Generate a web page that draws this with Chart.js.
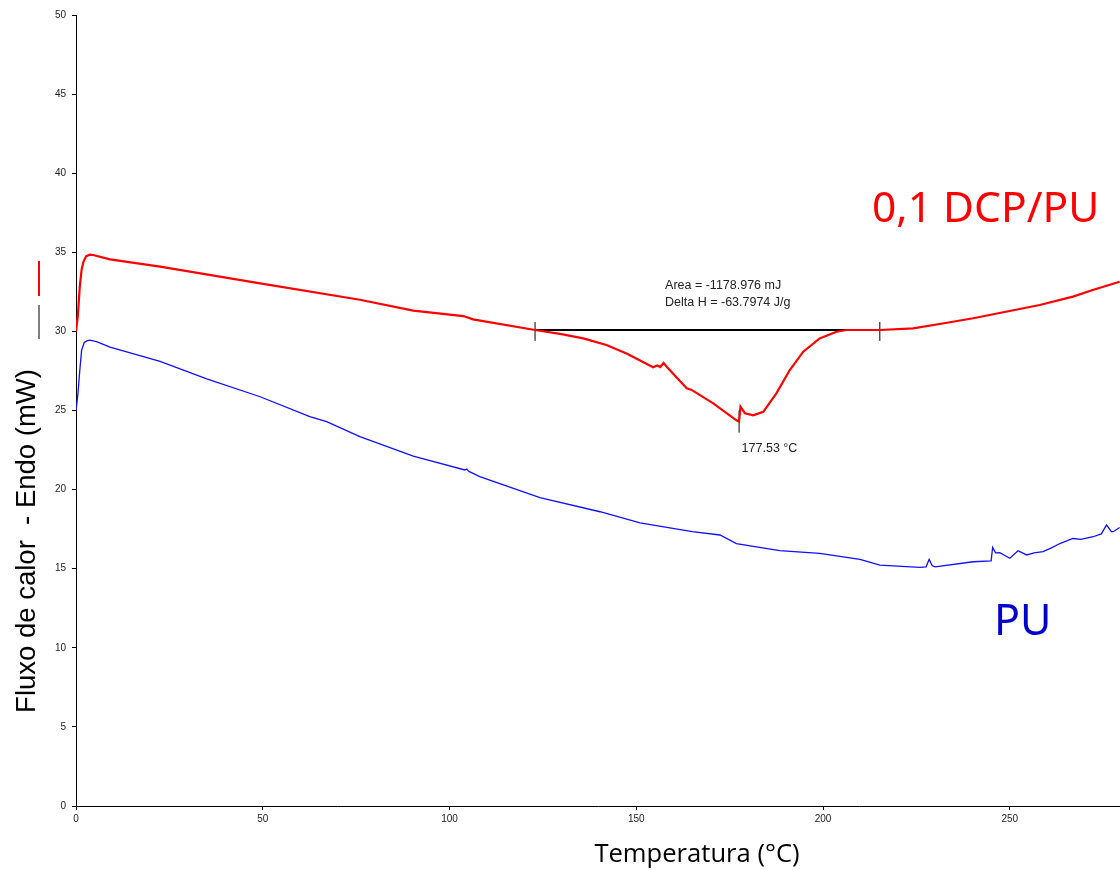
<!DOCTYPE html>
<html lang="pt">
<head>
    <meta charset="UTF-8">
    <title>DSC - PU e 0,1 DCP/PU</title>
    <script src="https://cdn.jsdelivr.net/npm/chart.js"></script>
    <style>
        html, body {
            margin: 0;
            padding: 0;
            background: #ffffff;
        }

        .chart-box {
            position: relative;
            width: 1120px;
            height: 870px;
        }
    </style>
</head>
<body>
    <div class="chart-box">
        <canvas id="dscChart"></canvas>
    </div>

    <script>
        // 0,1 DCP/PU curve (red)
        const dcpTemp = [0, 0.5, 1.0, 1.5, 2.0, 2.7, 3.7, 4.6, 9.1, 22.5, 49.3, 76, 90.3, 103.7, 106.3,
            122.9, 129.6, 135.8, 142, 147.4, 154.5, 155.6, 156.4, 157.3, 158.2, 163.5, 164.8, 170.6, 176.9,
            177.5, 177.9, 179.1, 181.3, 184.0, 187.5, 191.1, 194.7, 199.1, 203.6, 206.3, 215.2, 224.1,
            232, 240.2, 258.0, 266.9, 272, 279.4];
        const dcpFlux = [30.0, 31.0, 32.8, 33.9, 34.4, 34.75, 34.85, 34.83, 34.55, 34.09, 33.04, 32.0, 31.31, 30.97, 30.76,
            30.09, 29.84, 29.56, 29.14, 28.6, 27.73, 27.85, 27.75, 28.0, 27.75, 26.4, 26.3, 25.45, 24.36,
            24.3, 25.24, 24.82, 24.69, 24.92, 26.08, 27.56, 28.72, 29.56, 29.98, 30.09, 30.09, 30.19,
            30.5, 30.83, 31.67, 32.2, 32.6, 33.14];

        // PU curve (blue)
        const puTemp = [0, 0.5, 1.0, 1.5, 2.2, 2.9, 3.7, 5.5, 9.1, 22.5, 35, 49.3, 62.6, 67.1, 76, 90.3,
            104.1, 104.6, 105.2, 108.1, 124.2, 140.3, 151, 165, 172.4, 176.8, 188.4, 199.1, 209.9, 215.2,
            225.9, 227.6, 228.4, 229.2, 230, 240.2, 245, 245.4, 246.2, 247.3, 250, 252.2, 254.5, 256.5,
            258.9, 261, 263.4, 266.9, 269, 272.3, 274.5, 275.9, 277.2, 277.7, 279.4];
        const puFlux = [25.0, 26.0, 27.5, 28.8, 29.3, 29.4, 29.45, 29.35, 29.0, 28.1, 27.0, 25.87, 24.61, 24.3, 23.35, 22.12,
            21.24, 21.3, 21.15, 20.82, 19.5, 18.6, 17.9, 17.35, 17.13, 16.59, 16.14, 15.97, 15.59, 15.23,
            15.09, 15.12, 15.59, 15.2, 15.12, 15.44, 15.5, 16.35, 16.0, 16.01, 15.66, 16.14, 15.87, 16.0,
            16.08, 16.3, 16.59, 16.91, 16.85, 17.02, 17.2, 17.76, 17.35, 17.34, 17.6];

        // peak integration baseline and onset marks
        const baseTemp = [122.9, 215.2];
        const baseFlux = [30.09, 30.09];
        const baseTickFlux = [29.4, 30.6];
        const peakTemp = 177.53;
        const peakTickFlux = [23.6, 25.0];

        const xTicks = [0, 50, 100, 150, 200, 250];
        const yTicks = [0, 5, 10, 15, 20, 25, 30, 35, 40, 45, 50];

        function toPoints(xs, ys) {
            return xs.map((x, i) => ({ x: x, y: ys[i] }));
        }

        function lineSet(data, color, width) {
            return {
                data: data,
                borderColor: color,
                borderWidth: width,
                pointRadius: 0,
                showLine: true,
                tension: 0,
                fill: false
            };
        }

        // texts drawn on top (titles, peak info, curve names)
        const textPlugin = {
            id: 'dscTexts',
            afterDraw(chart) {
                const ctx = chart.ctx;
                const xs = chart.scales.x;
                const ys = chart.scales.y;
                ctx.save();

                // little marks left of the y axis
                ctx.strokeStyle = '#ff0000';
                ctx.lineWidth = 2;
                ctx.beginPath();
                ctx.moveTo(39, 261);
                ctx.lineTo(39, 296);
                ctx.stroke();
                ctx.strokeStyle = '#555555';
                ctx.lineWidth = 1.5;
                ctx.beginPath();
                ctx.moveTo(39, 305);
                ctx.lineTo(39, 339);
                ctx.stroke();

                // peak annotation
                ctx.fillStyle = '#222222';
                ctx.font = '12.5px "Liberation Sans", Arial, sans-serif';
                ctx.textAlign = 'left';
                ctx.textBaseline = 'middle';
                ctx.fillText('Area = -1178.976 mJ', xs.getPixelForValue(157.7), ys.getPixelForValue(32.87));
                ctx.fillText('Delta H = -63.7974 J/g', xs.getPixelForValue(157.7), ys.getPixelForValue(31.8));
                ctx.fillText('177.53 °C', xs.getPixelForValue(178.2), ys.getPixelForValue(22.6));

                // curve names
                ctx.textBaseline = 'alphabetic';
                ctx.fillStyle = '#ff0000';
                ctx.font = '42.5px "Noto Sans", sans-serif';
                ctx.fillText('0,1 DCP/PU', 872, 222);
                ctx.fillStyle = '#0000cc';
                ctx.font = '43px "Noto Sans", sans-serif';
                ctx.fillText('PU', 994, 635);

                // axis titles
                ctx.fillStyle = '#000000';
                ctx.textAlign = 'center';
                ctx.textBaseline = 'middle';
                ctx.font = '25.6px "Open Sans", sans-serif';
                ctx.fillText('Temperatura (°C)', 697, 855);

                ctx.translate(27, 541);
                ctx.rotate(-Math.PI / 2);
                ctx.font = '27.5px "Liberation Sans", Arial, sans-serif';
                ctx.fillText('Fluxo de calor  - Endo (mW)', 0, 0);
                ctx.restore();
            }
        };

        const datasets = [
            lineSet(toPoints(puTemp, puFlux), '#1010ff', 1.3),
            lineSet(toPoints(dcpTemp, dcpFlux), '#ff0000', 2.2),
            lineSet(toPoints(baseTemp, baseFlux), '#000000', 2),
            lineSet(toPoints([baseTemp[0], baseTemp[0]], baseTickFlux), '#000000', 1),
            lineSet(toPoints([baseTemp[1], baseTemp[1]], baseTickFlux), '#000000', 1),
            lineSet(toPoints([peakTemp, peakTemp], peakTickFlux), '#000000', 1)
        ];

        const tickFont = { family: '"Liberation Sans", Arial, sans-serif', size: 10 };

        new Chart(document.getElementById('dscChart').getContext('2d'), {
            type: 'scatter',
            data: { datasets: datasets },
            plugins: [textPlugin],
            options: {
                responsive: true,
                maintainAspectRatio: false,
                animation: false,
                layout: { padding: { top: 15, right: 0, left: 0, bottom: 0 } },
                plugins: {
                    legend: { display: false },
                    tooltip: { enabled: false }
                },
                scales: {
                    x: {
                        type: 'linear',
                        min: 0,
                        max: 279.5,
                        afterFit(scale) { scale.height = 64; },
                        afterBuildTicks(scale) { scale.ticks = xTicks.map(v => ({ value: v })); },
                        ticks: {
                            font: tickFont,
                            color: '#222222',
                            padding: 3,
                            maxRotation: 0,
                            autoSkip: false
                        },
                        grid: { drawOnChartArea: false, color: '#000000', tickLength: 4 },
                        border: { color: '#000000', width: 1 }
                    },
                    y: {
                        type: 'linear',
                        min: 0,
                        max: 50,
                        afterFit(scale) { scale.width = 76; },
                        afterBuildTicks(scale) { scale.ticks = yTicks.map(v => ({ value: v })); },
                        ticks: {
                            font: tickFont,
                            color: '#222222',
                            padding: 6
                        },
                        grid: { drawOnChartArea: false, color: '#000000', tickLength: 4 },
                        border: { color: '#000000', width: 1 }
                    }
                }
            }
        });
    </script>
</body>
</html>
